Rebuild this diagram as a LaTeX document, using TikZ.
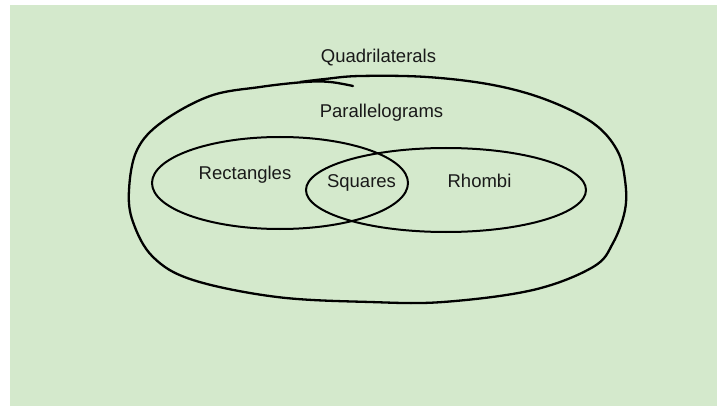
\documentclass[tikz,border=0pt]{standalone}
\usepackage{fontspec}
\setmainfont{Liberation Sans}
\usetikzlibrary{shapes.geometric}
\definecolor{paper}{RGB}{212,233,204}
\tikzset{
  label text/.style={anchor=base, inner sep=0pt, font=\fontsize{18.5}{22}\selectfont, text=black!90},
  set ellipse/.style={ellipse, draw=black, line width=2pt, inner sep=0pt},
  hand/.style={draw=black, line width=2.3pt, line cap=round, line join=round}
}
\begin{document}
\begin{tikzpicture}[x=1pt, y=-1pt]
  \useasboundingbox (0,0) rectangle (717,406);
  % sheet
  \fill[paper] (10,5) rectangle (717,406);

  % subsets
  \node[set ellipse, minimum width=256pt, minimum height=92pt] (rect) at (280,183) {};
  \node[set ellipse, minimum width=280pt, minimum height=84pt] (rhom) at (446,190) {};

  % freehand outline of the parallelograms set
  \draw[hand] plot[smooth, tension=0.6] coordinates {
    (353,86) (330,82) (305,82) (260,87) (210,96) (162,122) (137,150)
    (129,190) (133,222) (153,257) (193,280) (277,297) (370,302)
    (443,302) (533,290) (593,267) (613,243) (625,210) (625,180)
    (617,150) (593,123) (547,100) (493,85) (427,77) (360,76)
    (325,79) (300,82)};

  % labels
  \node[label text] (quad) at (378.5,63) {Quadrilaterals};
  \node[label text] (para) at (381.5,118) {Parallelograms};
  \node[label text] (rectl) at (245,180) {Rectangles};
  \node[label text] (sq) at (361.5,188) {Squares};
  \node[label text] (rh) at (479.5,188) {Rhombi};
\end{tikzpicture}
\end{document}
